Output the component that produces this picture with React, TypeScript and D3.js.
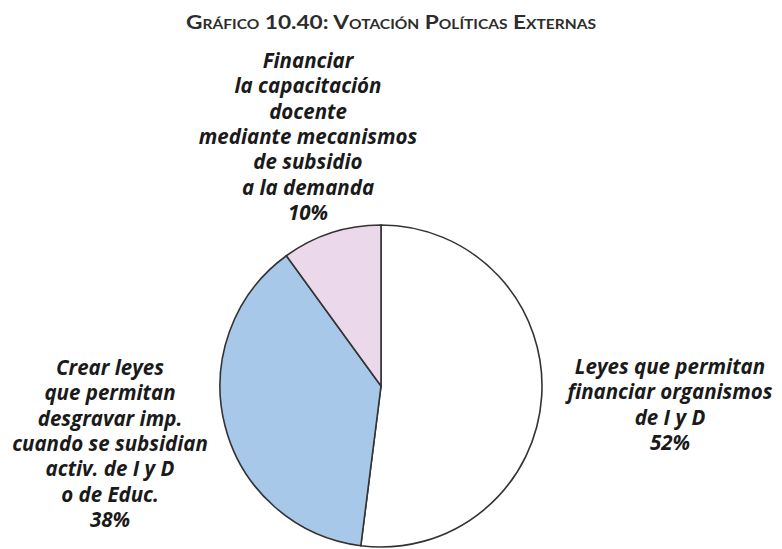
import React from "react";
import * as d3 from "d3";

const categories = [
  "Leyes que permitan financiar organismos de I y D",
  "Crear leyes que permitan desgravar imp. cuando se subsidian activ. de I y D o de Educ.",
  "Financiar la capacitación docente mediante mecanismos de subsidio a la demanda",
];
const values = [52, 38, 10];
const colors = ["#ffffff", "#a8c8ea", "#ebd8eb"];
const labelLines = [
  ["Leyes que permitan", "financiar organismos", "de I y D", "52%"],
  ["Crear leyes", "que permitan", "desgravar imp.", "cuando se subsidian", "activ. de I y D", "o de Educ.", "38%"],
  ["Financiar", "la capacitación", "docente", "mediante mecanismos", "de subsidio", "a la demanda", "10%"],
];
const labelAnchors = [
  { x: 670, y: 374 },
  { x: 110, y: 375 },
  { x: 308, y: 68 },
];
const title = "Gráfico 10.40: Votación Políticas Externas";

export default function App() {
  const W = 782, H = 549;
  const cx = 381, cy = 386, r = 161;
  const pie = d3.pie<number>().sort(null).startAngle(0).endAngle(2 * Math.PI)(values);
  const arc = d3.arc<d3.PieArcDatum<number>>().innerRadius(0).outerRadius(r);
  const lh = 25.3;
  return (
    <svg width={W} height={H} style={{ position: "absolute", left: 0, top: 0, background: "#fff" }}>
      <text x={391} y={29} textAnchor="middle" fontFamily="Lato" fontWeight={700} fontSize={19}
        textLength={410} lengthAdjust="spacingAndGlyphs"
        style={{ fontVariant: "small-caps" }} fill="#2c2c2c">{title}</text>
      <g transform={`translate(${cx},${cy})`}>
        {pie.map((d, i) => (
          <path key={i} d={arc(d) || ""} fill={colors[i]} stroke="#333" strokeWidth={1.6} />
        ))}
      </g>
      {labelLines.map((lines, i) => (
        <text key={i} textAnchor="middle" fontFamily="Open Sans" fontStyle="italic" fontWeight={700}
          fontSize={20.5} fill="#1a1a1a">
          {lines.map((l, j) => (
            <tspan key={j} x={labelAnchors[i].x} y={labelAnchors[i].y + j * lh}>{l}</tspan>
          ))}
        </text>
      ))}
    </svg>
  );
}
